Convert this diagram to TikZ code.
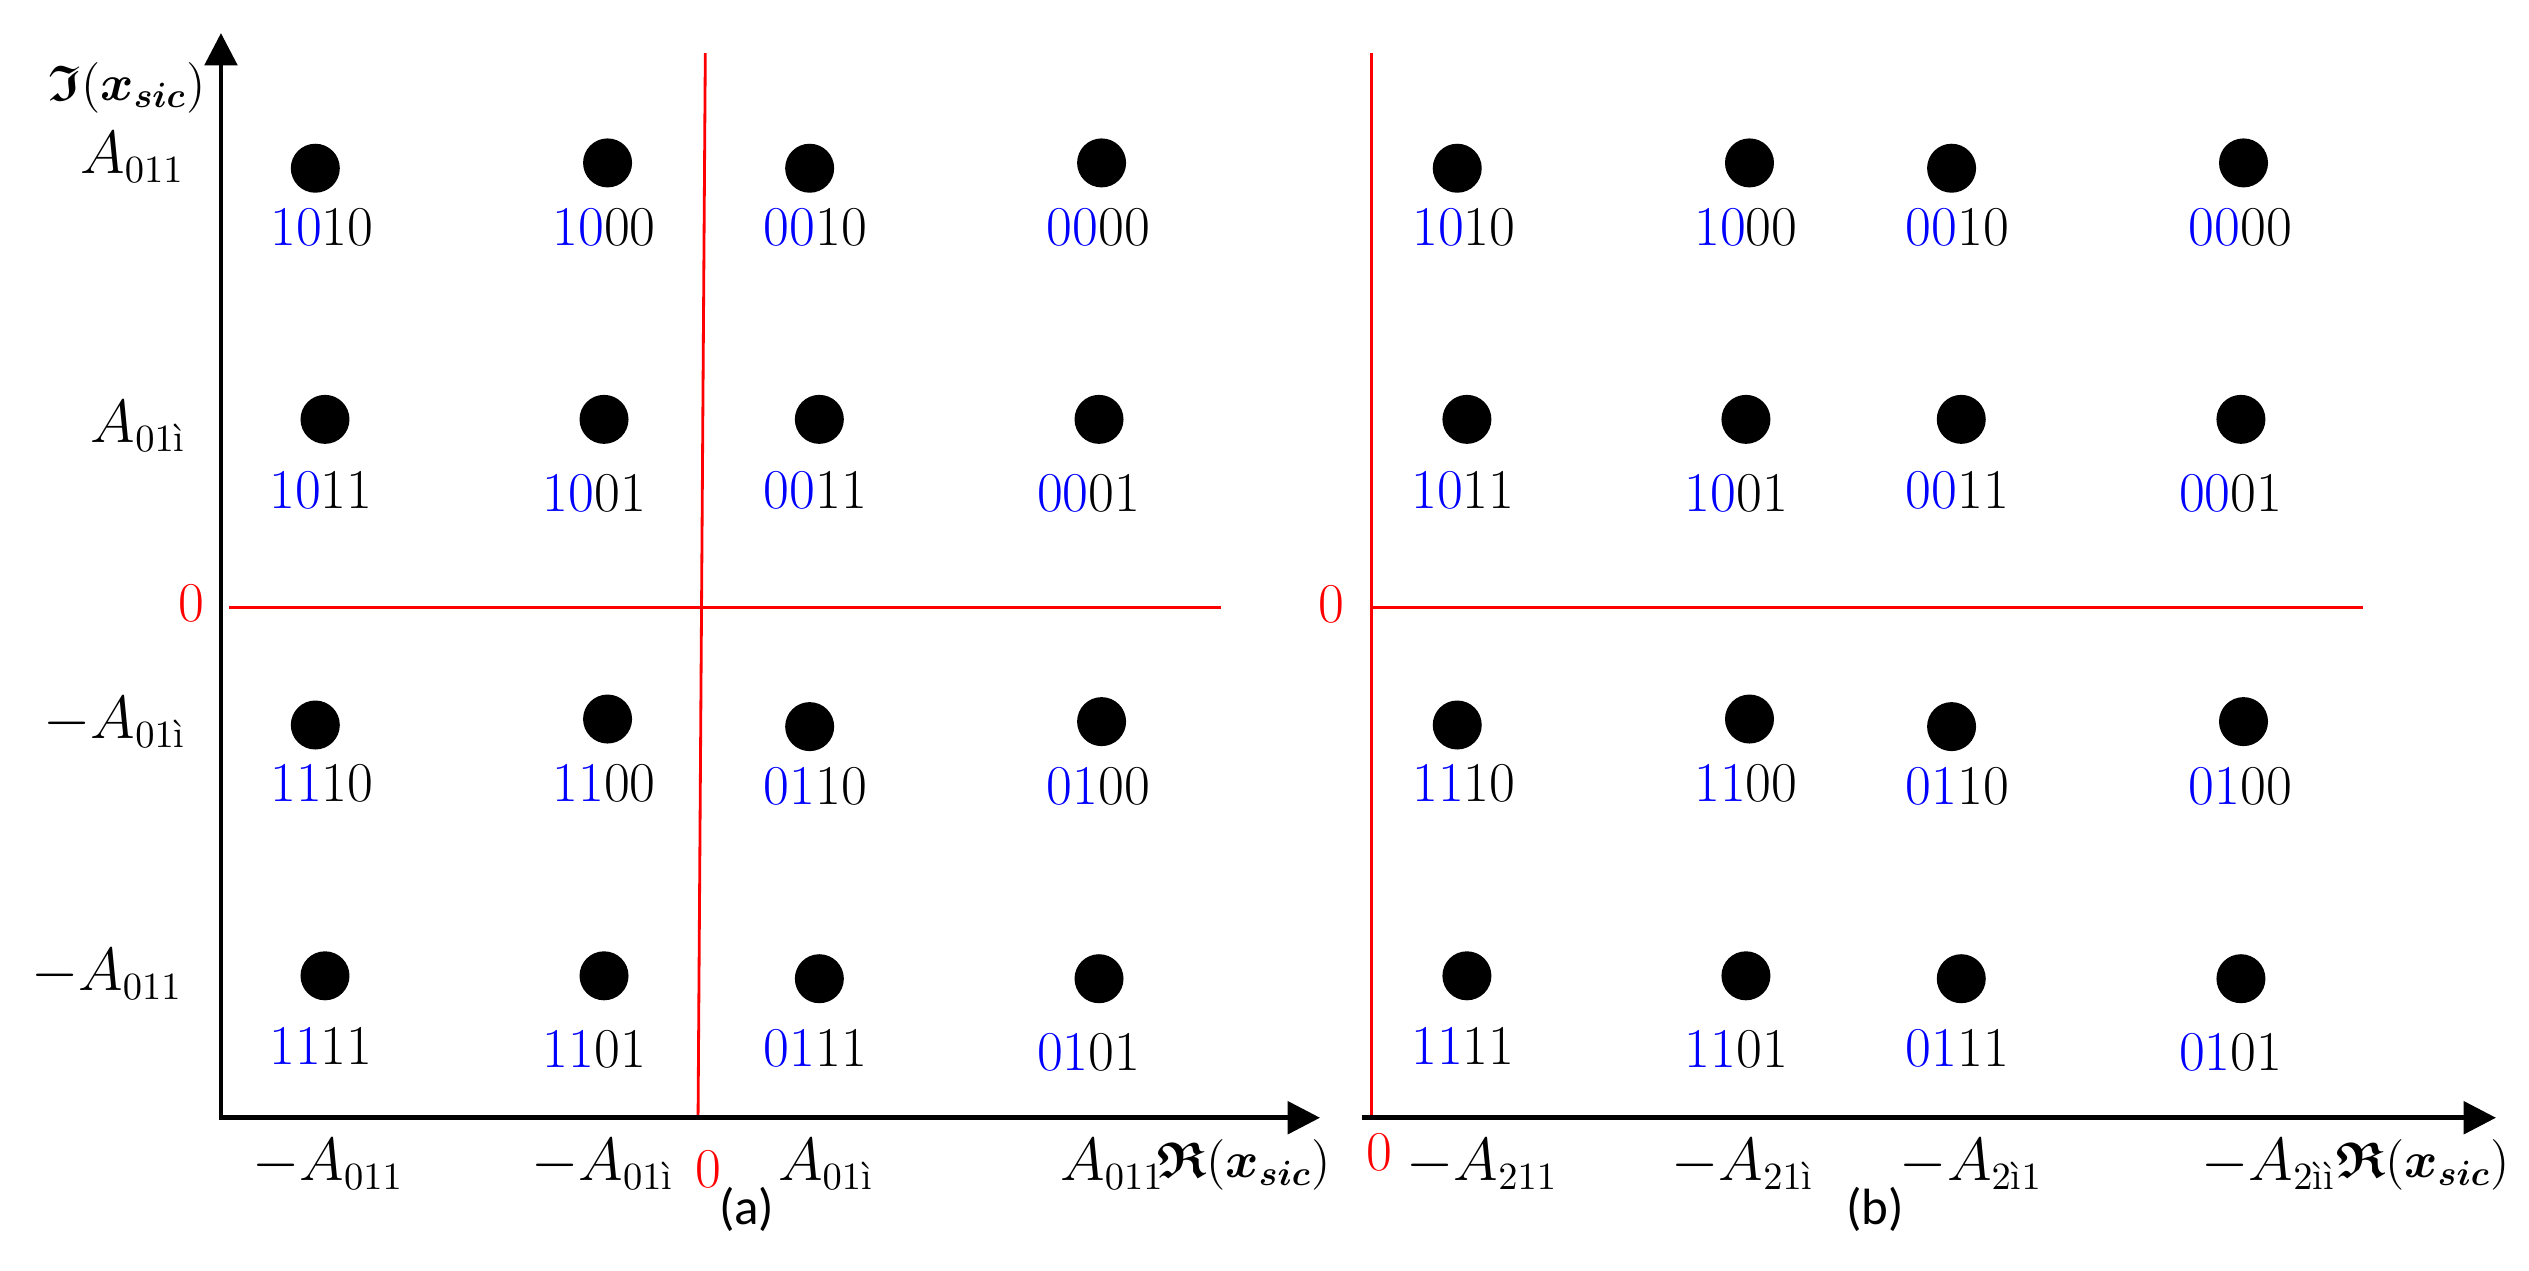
\documentclass[tikz,border=0pt]{standalone}
\usepackage{amsmath,amssymb}
\usepackage{fontspec}
\newfontfamily\capfont{Carlito}
\usetikzlibrary{arrows.meta}
\definecolor{pred}{RGB}{255,0,0}
\definecolor{pblue}{RGB}{0,0,255}
\tikzset{
  dotnode/.style={circle, fill=black, draw=none, inner sep=0pt, minimum size=0.49cm},
  bitlabel/.style={anchor=base, inner sep=0pt, font=\fontsize{16}{19}\selectfont},
  ticklab/.style={inner sep=0pt, font=\fontsize{16}{19}\selectfont},
  axislab/.style={inner sep=0pt, font=\fontsize{14.3}{17}\selectfont},
  zerolab/.style={inner sep=0pt, text=pred, font=\fontsize{16}{19}\selectfont},
  caplab/.style={inner sep=0pt, font=\fontsize{14.5}{17}\capfont},
  axisline/.style={draw=black, line width=1.3pt, line join=miter},
  redline/.style={draw=pred, line width=0.8pt},
  tip/.tip={Triangle[length=9.2pt, width=9.2pt]}
}
\newcommand{\accI}{\text{ì}}
\newcommand{\xsic}{\boldsymbol{x}_{\boldsymbol{sic}}}
\begin{document}
\begin{tikzpicture}[x=0.016129cm, y=-0.016129cm]
\useasboundingbox (0,0) rectangle (1568,788);

% ---------- constellation points (both panels) ----------
\foreach \pn/\sh in {a/0,b/708}{
  \foreach \code/\dx/\dy/\lx/\ly/\hb/\lb in {
    1010/195.5/104.3/199.6/152.3/10/10,
    1000/376.7/101/374.5/152.3/10/00,
    0010/502/104.3/505.5/152.3/00/10,
    0000/683/101/681/152.3/00/00,
    1011/201.5/260/199/315/10/11,
    1001/374.5/260/368.5/317.4/10/01,
    0011/508/260/505.5/315/00/11,
    0001/681.4/260/675/317.4/00/01,
    1110/195.5/449.5/199.6/497/11/10,
    1100/376.7/445.8/374.5/497/11/00,
    0110/502/450.5/505.5/498.5/01/10,
    0100/683/447.4/681/498.5/01/00,
    1111/201.5/605/199/660/11/11,
    1101/374.5/605/368.5/662/11/01,
    0111/508/606.8/505.5/661.3/01/11,
    0101/681.4/606.8/675/663.8/01/01}{
    \node[dotnode] (\pn-\code) at (\dx+\sh,\dy) {};
    \node[bitlabel] (\pn-\code-lab) at (\lx+\sh,\ly) {\textcolor{pblue}{\hb}\lb};
  }
}

% ---------- panel (a) ----------
\coordinate (a-o) at (137,693);
\coordinate (a-ytip) at (137,20.5);
\coordinate (a-xtip) at (818.4,693);
\coordinate (a-rh1) at (142,376.6);
\coordinate (a-rh2) at (757,376.6);
\coordinate (a-rv1) at (437.3,33);
\coordinate (a-rv2) at (432.8,693);
\draw[redline] (a-rh1) -- (a-rh2);
\draw[redline] (a-rv1) -- (a-rv2);
\draw[axisline, tip-tip] (a-ytip) -- (a-o) -- (a-xtip);

\node[axislab, anchor=base east] (a-yl) at (128,62) {$\boldsymbol{\mathfrak{I}}(\xsic)$};
\node[ticklab, anchor=base east] (a-y1) at (114.7,107.5) {$A_{011}$};
\node[ticklab, anchor=base east] (a-y2) at (116,274.5) {$A_{01\accI}$};
\node[zerolab, anchor=base east] (a-y0) at (127,385.6) {0};
\node[ticklab, anchor=base east] (a-y3) at (116,457.6) {$-A_{01\accI}$};
\node[ticklab, anchor=base east] (a-y4) at (113.5,614) {$-A_{011}$};

\node[ticklab, anchor=base west] (a-x1) at (156,731.6) {$-A_{011}$};
\node[ticklab, anchor=base west] (a-x2) at (329,731.6) {$-A_{01\accI}$};
\node[zerolab, anchor=base west] (a-x0) at (431,736) {0};
\node[ticklab, anchor=base west] (a-x3) at (482,731.6) {$A_{01\accI}$};
\node[ticklab, anchor=base west] (a-x4) at (657,731.6) {$A_{011}$};
\node[axislab, anchor=base west] (a-xl) at (717,730) {$\boldsymbol{\mathfrak{R}}(\xsic)$};
\node[caplab] (a-cap) at (463,750) {(a)};

% ---------- panel (b) ----------
\coordinate (b-xs) at (844.5,693);
\coordinate (b-xtip) at (1547.5,693);
\coordinate (b-rh1) at (850,376.6);
\coordinate (b-rh2) at (1465,376.6);
\coordinate (b-rv1) at (850.5,33);
\coordinate (b-rv2) at (850.5,693);
\draw[redline] (b-rh1) -- (b-rh2);
\draw[redline] (b-rv1) -- (b-rv2);
\draw[axisline, -tip] (b-xs) -- (b-xtip);

\node[zerolab, anchor=base east] (b-y0) at (834,386) {0};
\node[zerolab, anchor=base west] (b-x0) at (846.7,725.4) {0};
\node[ticklab, anchor=base west] (b-x1) at (871.6,731.6) {$-A_{211}$};
\node[ticklab, anchor=base west] (b-x2) at (1036,731.6) {$-A_{21\accI}$};
\node[ticklab, anchor=base west] (b-x3) at (1177.5,731.6) {$-A_{2\accI1}$};
\node[ticklab, anchor=base west] (b-x4) at (1364.6,731.6) {$-A_{2\accI\accI}$};
\node[axislab, anchor=base west] (b-xl) at (1448,730) {$\boldsymbol{\mathfrak{R}}(\xsic)$};
\node[caplab] (b-cap) at (1162.5,750) {(b)};
\end{tikzpicture}
\end{document}
